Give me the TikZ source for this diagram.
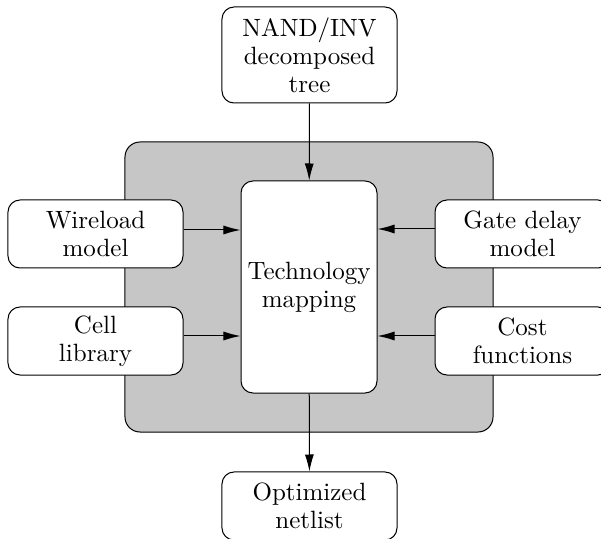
\documentclass[tikz,border=0pt]{standalone}
\usetikzlibrary{arrows.meta}
\definecolor{coregray}{RGB}{198,198,198}
\tikzset{
  blk/.style={draw, fill=white, rounded corners=4.8pt, line width=0.4pt,
    align=center, inner sep=0pt,
    font=\fontsize{10}{11.2}\selectfont},
  sidebox/.style={blk, minimum width=70pt, minimum height=27.2pt},
  flow/.style={-{Latex[length=6.8pt,width=3.6pt]}, line width=0.4pt},
}
\begin{document}
\begin{tikzpicture}[x=0.4pt, y=-0.4pt]
  \useasboundingbox (0,0) rectangle (601,539);
  % shaded region around the mapping step
  \node[draw, fill=coregray, rounded corners=6pt, line width=0.4pt,
        minimum width=147.2pt, minimum height=116pt, inner sep=0pt]
        (core) at (309,287) {};
  \node[blk, minimum width=54.4pt, minimum height=84.8pt] (tech) at (309,287)
        {Technology\\mapping};
  \node[blk, minimum width=70pt, minimum height=38.4pt] (tree) at (309.5,55)
        {NAND/INV\\decomposed\\tree};
  \node[sidebox] (wire) at (95.5,234) {Wireload\\model};
  \node[sidebox] (cell) at (95.5,341) {Cell\\library};
  \node[sidebox] (gate) at (522.5,234) {Gate delay\\model};
  \node[sidebox] (cost) at (522.5,341) {Cost\\functions};
  \node[sidebox] (net) at (309.5,506) {Optimized\\netlist};
  % connectors
  \draw[flow] (tree) -- (tech);
  \draw[flow] (tech) -- (net);
  \draw[flow] ([yshift=1.6pt]wire.east) -- ([yshift=1.6pt]wire.east -| tech.west);
  \draw[flow] ([yshift=2pt]cell.east) -- ([yshift=2pt]cell.east -| tech.west);
  \draw[flow] ([yshift=2pt]gate.west) -- ([yshift=2pt]gate.west -| tech.east);
  \draw[flow] ([yshift=2pt]cost.west) -- ([yshift=2pt]cost.west -| tech.east);
\end{tikzpicture}
\end{document}
